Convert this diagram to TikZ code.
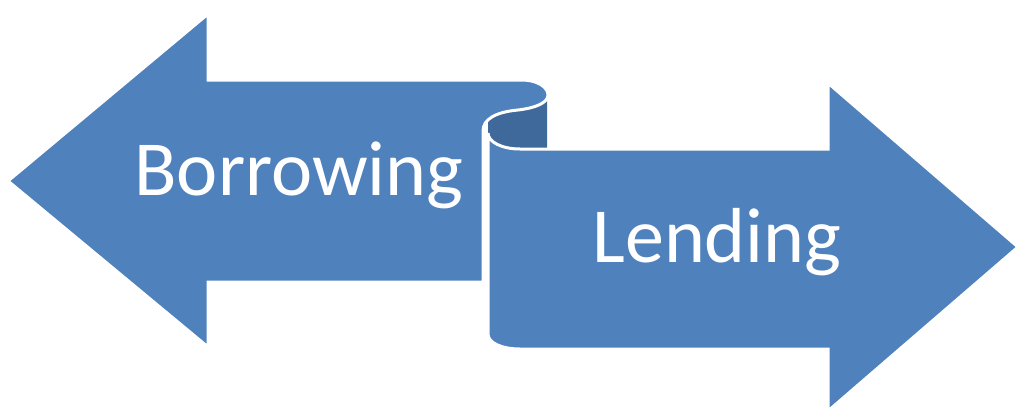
\documentclass[tikz,border=0pt]{standalone}
\usepackage{fontspec}
\setmainfont{Carlito}
\definecolor{arrowblue}{RGB}{79,129,189}
\definecolor{rollblue}{RGB}{63,104,155}
\begin{document}
\begin{tikzpicture}[x=1pt, y=-1pt,
    ribbon/.style = {fill=arrowblue, draw=white, line width=3pt},
    inside/.style = {fill=rollblue},
    every node/.style = {text=white, font=\fontsize{78}{94}\selectfont,
      inner sep=0pt, anchor=base}]
  \useasboundingbox (0,0) rectangle (1016,408);
  \fill[inside] (547,92) -- (547,149) -- (520,149) .. controls (502,149) and (488,142) .. (488,133) -- (488,108) -- cycle;
  \path[ribbon] (8,181) -- (208,14) -- (208,80) -- (522,80)
    .. controls (537,80) and (548,87) .. (548,95)
    .. controls (548,103) and (535,108) .. (518,110)
    .. controls (496,112) and (483,119) .. (483,131)
    -- (483,282) -- (208,282) -- (208,347) -- cycle;
  \path[ribbon] (488,133) .. controls (488,142) and (502,149) .. (520,149)
    -- (828,149) -- (828,83) -- (1018,247) -- (828,411) -- (828,349) -- (520,349)
    .. controls (502,349) and (488,343) .. (488,334) -- cycle;
  \node (borrow) at (299,195) {Borrowing};
  \node (lend) at (717,262) {Lending};
\end{tikzpicture}
\end{document}
